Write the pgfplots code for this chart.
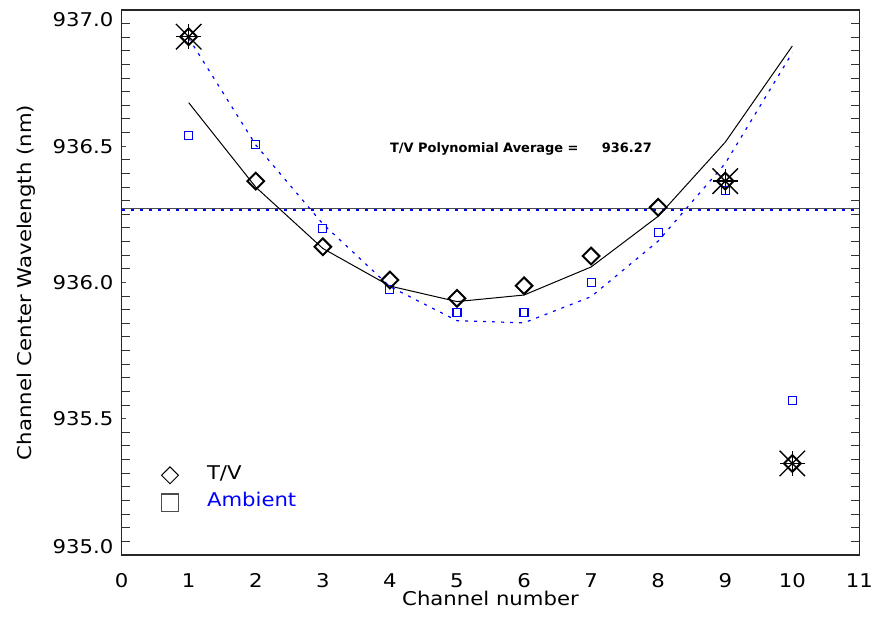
\documentclass[border=0pt]{standalone}
\usepackage{fontspec}
\setmainfont{DejaVu Sans}[FakeStretch=1.12]
\newfontfamily\annfont{DejaVu Sans}
\usepackage{pgfplots}
\pgfplotsset{compat=1.18}
\newcommand{\bigf}{\fontsize{19}{23}\selectfont}
\begin{document}
\begin{tikzpicture}
\useasboundingbox (-121.6bp,-63bp) rectangle (751.4bp,555bp);
\begin{axis}[
  at={(0,0)}, anchor=south west,
  scale only axis, width=737.8bp, height=545bp,
  xmin=0, xmax=11, ymin=935, ymax=937,
  xtick={0,1,2,3,4,5,6,7,8,9,10,11},
  ytick={935,935.5,936,936.5,937},
  minor y tick num=9,
  tick align=inside,
  minor tick length=8bp,
  xtick style={/pgfplots/major tick length=1.5bp, black!60},
  ytick style={/pgfplots/major tick length=4bp, black!70, line width=1bp},
  minor y tick style={black!80, line width=1bp},
  axis line style={black!85, line width=1.2bp},
  tick label style={font=\bigf},
  /pgf/number format/assume math mode=true,
  xticklabel style={anchor=base, inner sep=0pt, yshift=-32bp},
  yticklabel style={anchor=east, inner sep=0pt, xshift=-8bp},
  yticklabel={\ifnum\ticknum=0 \raisebox{8bp}[\height][\depth]{\pgfmathprintnumber[fixed,fixed zerofill,precision=1]{\tick}}\else\ifnum\ticknum=4 \raisebox{-10bp}[\height][\depth]{\pgfmathprintnumber[fixed,fixed zerofill,precision=1]{\tick}}\else\pgfmathprintnumber[fixed,fixed zerofill,precision=1]{\tick}\fi\fi},
  xlabel={Channel number},
  ylabel={Channel Center Wavelength (nm)},
  every axis x label/.style={at={(axis description cs:0.5,0)}, anchor=base, yshift=-50bp, font=\bigf},
  every axis y label/.style={at={(axis description cs:-0.1296,0.5)}, rotate=90, anchor=center, font=\bigf},
  legend style={at={(0.0534,0.1646)}, anchor=north west, draw=none, fill=none,
    inner sep=0pt, outer sep=0pt, column sep=28bp, row sep=8.4bp, font=\bigf,
    nodes={inner sep=0pt, text height=14bp, text depth=0bp}},
  legend cell align=left,
  legend image code/.code={\path[draw=none,fill=none] (-9bp,-12bp) rectangle (9bp,6bp); \draw[#1] plot coordinates {(0bp,-3bp)};},
]
% average lines
\addplot[black!70, line width=1.3bp, forget plot] coordinates {(0,936.272) (11,936.272)};
\addplot[blue, line width=1.2bp, dash pattern=on 3bp off 6bp, forget plot] coordinates {(0,936.266) (11,936.266)};
% T/V polynomial
\addplot[black, line width=1bp, forget plot] coordinates {
(1,936.660) (2,936.350) (3,936.125) (4,935.987) (5,935.930) (6,935.954) (7,936.057) (8,936.243) (9,936.515) (10,936.868)};
% Ambient polynomial
\addplot[blue, line width=1.2bp, dash pattern=on 3bp off 6bp, forget plot] coordinates {
(1,936.897) (2,936.505) (3,936.215) (4,935.985) (5,935.860) (6,935.852) (7,935.948) (8,936.152) (9,936.437) (10,936.843)};
% Ambient squares
\addplot[only marks, mark=square, mark size=4bp, blue, mark options={line width=1.1bp}, forget plot] coordinates {
(1,936.539) (2,936.505) (3,936.197) (4,935.975) (5,935.891) (6,935.891) (7,936.001) (8,936.183) (9,936.339) (10,935.566)};
% T/V diamonds
\addplot[only marks, mark=square, mark size=5.9bp, black, mark options={rotate=45, line width=2bp}, forget plot] coordinates {
(1,936.902) (2,936.372) (3,936.131) (4,936.009) (5,935.942) (6,935.988) (7,936.097) (8,936.276) (9,936.372) (10,935.336)};
% flagged points
\addplot[only marks, mark=x, mark size=18bp, black, mark options={line width=1.3bp}, forget plot] coordinates {
(1,936.902) (9,936.372) (10,935.336)};
\addplot[only marks, mark=+, mark size=12.5bp, black, mark options={line width=1.3bp}, forget plot] coordinates {
(1,936.902) (9,936.372) (10,935.336)};
\addlegendimage{mark=square, mark size=6bp, black, mark options={rotate=45, line width=1bp}}
\addlegendentry{T/V}
\addlegendimage{mark=square, mark size=8.6bp, black!70, mark options={line width=1.2bp}}
\addlegendentry{\textcolor{blue}{Ambient}}
\node[anchor=base west, inner sep=0pt, font=\annfont\bfseries\fontsize{13}{15}\selectfont] at (axis cs:4.0,936.478) {T/V Polynomial Average =};
\node[anchor=base west, inner sep=0pt, font=\annfont\bfseries\fontsize{13}{15}\selectfont] at (axis cs:7.158,936.478) {936.27};
\end{axis}
\end{tikzpicture}
\end{document}
